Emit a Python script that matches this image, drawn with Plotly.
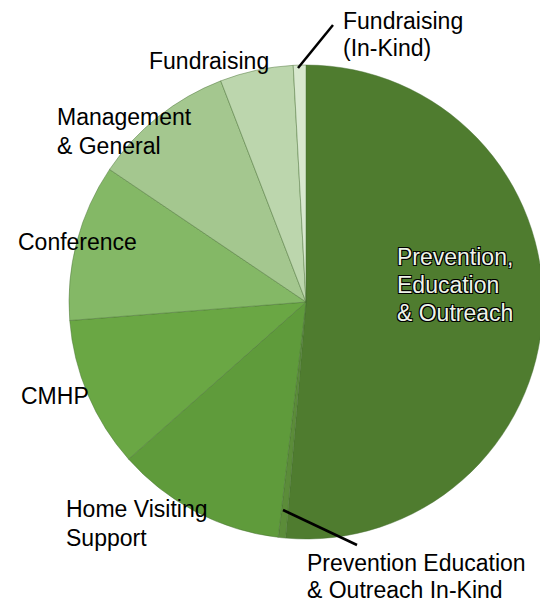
import plotly.graph_objects as go

W, H = 548, 603
OFF = 8  # page body margin

categories = [
    "Prevention, Education & Outreach",
    "Prevention Education & Outreach In-Kind",
    "Home Visiting Support",
    "CMHP",
    "Conference",
    "Management & General",
    "Fundraising",
    "Fundraising (In-Kind)",
]
values = [51.4, 0.5, 11.6, 10.3, 10.7, 9.7, 5.0, 0.86]
colors = ["#4f7c2f", "#5b8c39", "#5f9b3b", "#6aa744", "#84b866",
          "#a4c78f", "#bcd6ad", "#d8e8cf"]

def px(x):
    return (x - OFF) / W

def py(y):
    return 1 - (y - OFF) / H

cx, cy, r = 306, 302, 237

fig = go.Figure(go.Pie(
    labels=categories,
    values=values,
    sort=False,
    direction="clockwise",
    rotation=0,
    textinfo="none",
    hoverinfo="label+percent",
    marker=dict(colors=colors, line=dict(color="rgba(70,110,50,0.45)", width=1)),
    domain=dict(x=[px(cx - r), px(cx + r)], y=[py(cy + r), py(cy - r)]),
    showlegend=False,
))

FAM = "Liberation Sans, Arial, sans-serif"
font = dict(family=FAM, size=23, color="#000000")

label_lines = [
    ("Fundraising", 341, 21),
    ("(In-Kind)", 341, 48),
    ("Fundraising", 147, 61),
    ("Management", 55, 117),
    ("& General", 55, 146),
    ("Conference", 16, 242),
    ("CMHP", 19, 396),
    ("Home Visiting", 64, 509),
    ("Support", 64, 538),
    ("Prevention Education", 305, 563),
    ("& Outreach In-Kind", 305, 590),
]

annotations = []
for text, x, y in label_lines:
    annotations.append(dict(
        text=text, x=px(x), y=py(y), xref="paper", yref="paper",
        xanchor="left", yanchor="middle", align="left",
        showarrow=False, font=font,
    ))

inner_lines = [
    ("Prevention,", 395, 257),
    ("Education", 395, 285),
    ("& Outreach", 395, 313),
]
for text, x, y in inner_lines:
    annotations.append(dict(
        text=text, x=px(x), y=py(y), xref="paper", yref="paper",
        xanchor="left", yanchor="middle", align="left", showarrow=False,
        font=dict(family=FAM, size=23, color="#eef3ea",
                  shadow="-1px -1px 0 #000, 1px -1px 0 #000, -1px 1px 0 #000, 1px 1px 0 #000"),
    ))

shapes = [
    dict(type="line", xref="paper", yref="paper",
         x0=px(298), y0=py(68), x1=px(333), y1=py(25),
         line=dict(color="#000000", width=2.5)),
    dict(type="line", xref="paper", yref="paper",
         x0=px(283), y0=py(510), x1=px(357), y1=py(545),
         line=dict(color="#000000", width=2.5)),
]

fig.update_layout(
    width=W, height=H,
    margin=dict(l=0, r=0, t=0, b=0),
    paper_bgcolor="#ffffff",
    plot_bgcolor="#ffffff",
    annotations=annotations,
    shapes=shapes,
)

fig.write_html("out.html")
